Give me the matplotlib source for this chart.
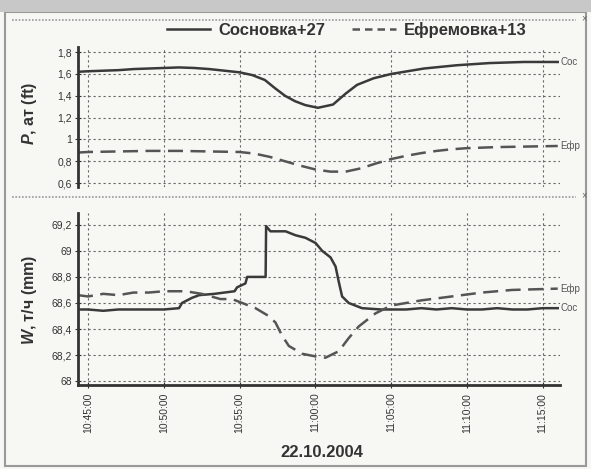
import pandas as pd
import matplotlib
matplotlib.use("Agg")
import matplotlib.pyplot as plt
import matplotlib.dates as mdates
from matplotlib.lines import Line2D
from matplotlib.patches import Rectangle

plt.rcParams['font.family'] = ['Liberation Sans', 'DejaVu Sans']
plt.rcParams['mathtext.fontset'] = 'custom'
plt.rcParams['mathtext.it'] = 'Liberation Sans:italic:bold'
plt.rcParams['mathtext.rm'] = 'Liberation Sans:bold'

DAY = "2004-10-22 "

# давление, Сосновка+27
p_sos_t = ["10:44:20", "10:45:00", "10:46:00", "10:47:00", "10:48:00", "10:49:00",
           "10:50:00", "10:51:00", "10:52:00", "10:53:00", "10:54:00", "10:55:00",
           "10:55:50", "10:56:40", "10:57:20", "10:58:00", "10:58:40", "10:59:20",
           "11:00:10", "11:01:10", "11:02:00", "11:02:45", "11:03:50", "11:05:00",
           "11:07:10", "11:09:20", "11:11:30", "11:13:45", "11:16:00"]
p_sos = [1.620, 1.625, 1.630, 1.635, 1.645, 1.650,
         1.655, 1.660, 1.655, 1.645, 1.630, 1.615,
         1.590, 1.545, 1.470, 1.400, 1.350, 1.315,
         1.290, 1.320, 1.420, 1.500, 1.560, 1.600,
         1.650, 1.680, 1.700, 1.710, 1.710]

# давление, Ефремовка+13
p_efr_t = ["10:44:20", "10:45:00", "10:47:00", "10:49:00", "10:51:00", "10:53:00",
           "10:55:00", "10:56:00", "10:57:00", "10:58:00", "10:59:00", "11:00:00",
           "11:01:00", "11:02:00", "11:03:00", "11:04:00", "11:05:00", "11:06:00",
           "11:07:00", "11:08:00", "11:09:00", "11:10:00", "11:12:00", "11:14:00",
           "11:16:00"]
p_efr = [0.880, 0.885, 0.890, 0.895, 0.895, 0.890,
         0.885, 0.870, 0.840, 0.800, 0.760, 0.725,
         0.705, 0.705, 0.735, 0.780, 0.820, 0.850,
         0.875, 0.895, 0.910, 0.920, 0.930, 0.935,
         0.940]

# расход, Сосновка+27
w_sos_t = ["10:44:20", "10:45:00", "10:46:00", "10:47:00", "10:48:00", "10:49:00",
           "10:50:00", "10:51:00", "10:51:12", "10:51:52", "10:52:20", "10:53:20",
           "10:54:40", "10:54:50", "10:55:23", "10:55:30", "10:56:43", "10:56:45",
           "10:57:02", "10:58:02", "10:58:41", "10:59:21", "11:00:01", "11:00:27",
           "11:01:00", "11:01:20", "11:01:33", "11:01:46", "11:02:12", "11:03:05",
           "11:04:20", "11:06:00", "11:07:00", "11:08:00", "11:09:00", "11:10:00",
           "11:11:00", "11:12:00", "11:13:00", "11:14:00", "11:15:00", "11:16:00"]
w_sos = [68.55, 68.55, 68.54, 68.55, 68.55, 68.55,
         68.55, 68.56, 68.60, 68.64, 68.66, 68.67,
         68.69, 68.72, 68.75, 68.80, 68.80, 69.19,
         69.15, 69.15, 69.12, 69.10, 69.06, 69.00,
         68.95, 68.88, 68.76, 68.65, 68.60, 68.56,
         68.55, 68.55, 68.56, 68.55, 68.56, 68.55,
         68.55, 68.56, 68.55, 68.55, 68.56, 68.56]

# расход, Ефремовка+13
w_efr_t = ["10:44:20", "10:45:00", "10:46:00", "10:47:00", "10:48:00", "10:49:00",
           "10:50:00", "10:51:26", "10:52:30", "10:53:44", "10:54:30", "10:55:10",
           "10:56:03", "10:56:55", "10:57:22", "10:57:48", "10:58:15", "10:59:08",
           "11:00:00", "11:00:40", "11:01:33", "11:02:12", "11:02:52", "11:03:58",
           "11:05:00", "11:07:00", "11:09:00", "11:11:00", "11:13:00", "11:16:00"]
w_efr = [68.66, 68.65, 68.67, 68.66, 68.68, 68.68,
         68.69, 68.69, 68.67, 68.63, 68.63, 68.60,
         68.56, 68.50, 68.45, 68.35, 68.27, 68.21,
         68.19, 68.18, 68.23, 68.33, 68.42, 68.52,
         68.58, 68.62, 68.65, 68.68, 68.70, 68.71]

p_ticks = [0.6, 0.8, 1.0, 1.2, 1.4, 1.6, 1.8]
p_labels = ["0,6", "0,8", "1", "1,2", "1,4", "1,6", "1,8"]
w_ticks = [68.0, 68.2, 68.4, 68.6, 68.8, 69.0, 69.2]
w_labels = ["68", "68,2", "68,4", "68,6", "68,8", "69", "69,2"]


def tt(lst):
    return pd.to_datetime([DAY + s for s in lst])


ink = '#333333'
bg = '#f7f7f4'
fig = plt.figure(figsize=(5.91, 4.69), dpi=100, facecolor=bg)

ax1 = fig.add_axes([0.132, 0.601, 0.816, 0.2985])
ax2 = fig.add_axes([0.132, 0.179, 0.816, 0.3667])

xmin = pd.Timestamp(DAY + "10:44:20")
xmax = pd.Timestamp(DAY + "11:16:10")

for ax in (ax1, ax2):
    ax.set_facecolor(bg)
    ax.set_xlim(xmin, xmax)
    ax.xaxis.set_major_locator(mdates.MinuteLocator(byminute=range(0, 60, 5)))
    ax.xaxis.set_major_formatter(mdates.DateFormatter('%H:%M:%S'))
    ax.grid(True, color='#666666', linestyle=(0, (2, 2.5)), linewidth=0.8)
    for s in ('top', 'right'):
        ax.spines[s].set_visible(False)
    ax.spines['left'].set_linewidth(2)
    ax.spines['left'].set_color(ink)
    ax.tick_params(axis='y', direction='inout', length=5, width=0.8, colors=ink,
                   labelsize=7.5, pad=2)

ax1.spines['bottom'].set_visible(False)
ax1.tick_params(axis='x', bottom=False, labelbottom=False)
ax2.spines['bottom'].set_linewidth(2)
ax2.spines['bottom'].set_color(ink)
ax2.tick_params(axis='x', direction='inout', length=5, width=0.8, colors=ink,
                labelsize=7.5, labelrotation=90, pad=3)

lw = 1.8
ax1.plot(tt(p_sos_t), p_sos, color='#3a3a3a', lw=lw)
ax1.plot(tt(p_efr_t), p_efr, color='#555555', lw=lw, linestyle=(0, (6, 3)))
ax1.set_ylim(0.563, 1.846)
ax1.set_yticks(p_ticks)
ax1.set_yticklabels(p_labels)

ax2.plot(tt(w_sos_t), w_sos, color='#3a3a3a', lw=lw)
ax2.plot(tt(w_efr_t), w_efr, color='#555555', lw=lw, linestyle=(0, (6, 3)))
ax2.set_ylim(67.97, 69.29)
ax2.set_yticks(w_ticks)
ax2.set_yticklabels(w_labels)

# подписи на концах линий
for ax, tl, vals, name in ((ax1, p_sos_t, p_sos, "Сос"), (ax1, p_efr_t, p_efr, "Ефр"),
                           (ax2, w_sos_t, w_sos, "Сос"), (ax2, w_efr_t, w_efr, "Ефр")):
    ax.annotate(name, (tt(tl)[-1], vals[-1]), xytext=(2, 0), textcoords='offset points',
                fontsize=7, color='#555555', va='center', ha='left', annotation_clip=False)

fig.text(0.05, 0.759, r"$P$, ат (ft)", rotation=90, ha='center', va='center',
         fontsize=11.5, fontweight='bold', color=ink)
fig.text(0.05, 0.36, r"$W$, т/ч (mm)", rotation=90, ha='center', va='center',
         fontsize=11.5, fontweight='bold', color=ink)
fig.text(0.545, 0.036, "22.10.2004", ha='center', va='center', fontsize=12,
         fontweight='bold', color=ink)

handles = [Line2D([], [], color='#3a3a3a', lw=1.8),
           Line2D([], [], color='#555555', lw=1.8, linestyle=(0, (3, 2)))]
fig.legend(handles, ["Сосновка+27", "Ефремовка+13"], loc='center',
           bbox_to_anchor=(0.587, 0.936), ncol=2, frameon=False,
           prop={'size': 12, 'weight': 'bold'}, handlelength=2.6,
           columnspacing=1.6, handletextpad=0.5, labelcolor=ink)

# рамка окна и разделители панелей
fig.add_artist(Rectangle((0.008, 0.006), 0.984, 0.968, transform=fig.transFigure,
                         fill=False, edgecolor='#999999', lw=1.5))
fig.add_artist(Rectangle((0.0, 0.975), 1.0, 0.025, transform=fig.transFigure,
                         facecolor='#c8c8c8', edgecolor='none'))
for yy in (0.958, 0.58):
    fig.add_artist(Line2D([0.02, 0.975], [yy, yy], transform=fig.transFigure,
                          color='#999999', lw=1.2, linestyle=(0, (1, 1))))
    fig.text(0.988, yy + 0.004, "×", ha='center', va='center', fontsize=7, color='#666666')

fig.savefig("out.png", dpi=100, facecolor=bg)
